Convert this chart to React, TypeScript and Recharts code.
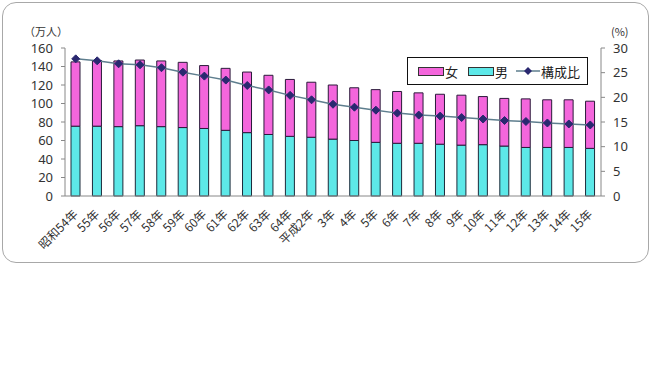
import React from 'react';
import { ComposedChart, Bar, Line, XAxis, YAxis } from 'recharts';

const years = [
  '昭和54年', '55年', '56年', '57年', '58年', '59年', '60年', '61年', '62年', '63年', '64年',
  '平成2年', '3年', '4年', '5年', '6年', '7年', '8年', '9年', '10年', '11年', '12年', '13年', '14年', '15年',
];

// 男 (万人)
const male = [75.5, 75.5, 75, 76, 75, 74, 73, 71, 68.5, 66.5, 64.5, 63.5, 61.5, 60, 58, 57, 57, 56, 55, 55.5, 54, 52.5, 52.5, 52.5, 51.5];
// 総数 (万人)
const total = [145, 146.5, 146, 147, 146, 144.5, 141, 138, 134, 130.5, 126, 123, 120, 117, 115, 113, 111.5, 110, 109, 107.5, 105.5, 105, 104, 104, 102.5];
// 構成比 (%)
const ratio = [27.8, 27.4, 26.8, 26.6, 26.0, 25.1, 24.3, 23.5, 22.4, 21.5, 20.4, 19.5, 18.6, 18.0, 17.4, 16.8, 16.4, 16.2, 15.9, 15.6, 15.3, 15.1, 14.8, 14.6, 14.4];

const leftTicks = [0, 20, 40, 60, 80, 100, 120, 140, 160];
const rightTicks = [0, 5, 10, 15, 20, 25, 30];

const data = years.map((y, i) => ({
  year: y,
  male: male[i],
  female: Math.round((total[i] - male[i]) * 10) / 10,
  ratio: ratio[i],
}));

const PINK = '#F466DC';
const CYAN = '#5DE8E8';
const LINE = '#5E7E8E';
const MARK = '#2A2870';
const JP = '"Noto Sans CJK JP", "Noto Sans", sans-serif';

const XTick = (props: any) => {
  const { x, y, payload } = props;
  return (
    <text
      x={x + 3}
      y={y + 11}
      textAnchor="end"
      transform={`rotate(-45, ${x + 3}, ${y + 11})`}
      fontSize={12}
      fill="#333"
      fontFamily={JP}
    >
      {payload.value}
    </text>
  );
};

const Diamond = (props: any) => {
  const { cx, cy } = props;
  if (cx == null || cy == null) return null;
  const r = 4;
  return <path d={`M${cx},${cy - r}L${cx + r},${cy}L${cx},${cy + r}L${cx - r},${cy}Z`} fill={MARK} stroke={MARK} />;
};

const LegendBox = () => (
  <div
    style={{
      position: 'absolute',
      left: 407,
      top: 57,
      width: 181,
      height: 28,
      border: '1px solid #111',
      background: '#fff',
      display: 'flex',
      alignItems: 'center',
      fontFamily: JP,
      fontSize: 13,
      color: '#222',
      boxSizing: 'border-box',
      paddingLeft: 10,
      whiteSpace: 'nowrap',
    }}
  >
    <span style={{ display: 'inline-block', flex: 'none', width: 24, height: 7, background: PINK, border: '1px solid #333' }} />
    <span style={{ marginLeft: 1, marginRight: 10 }}>女</span>
    <span style={{ display: 'inline-block', flex: 'none', width: 24, height: 7, background: CYAN, border: '1px solid #333' }} />
    <span style={{ marginLeft: 1, marginRight: 8 }}>男</span>
    <svg width={24} height={10} style={{ flex: 'none' }}>
      <line x1={0} y1={5} x2={24} y2={5} stroke={LINE} strokeWidth={1.5} />
      <path d="M12,1L16,5L12,9L8,5Z" fill={MARK} />
    </svg>
    <span style={{ marginLeft: 1 }}>構成比</span>
  </div>
);

export default function App() {
  return (
    <div style={{ position: 'absolute', left: 0, top: 0, width: 650, height: 386, background: '#fff' }}>
      <div
        style={{
          position: 'absolute',
          left: 2,
          top: 2,
          width: 645,
          height: 259,
          border: '1px solid #A8A8A8',
          borderRadius: 14,
        }}
      />
      <div style={{ position: 'absolute', left: 24, top: 23, fontSize: 11, fontFamily: JP, color: '#333' }}>（万人）</div>
      <div style={{ position: 'absolute', left: 611, top: 23, fontSize: 11, fontFamily: JP, color: '#333' }}>(%)</div>
      <div style={{ position: 'absolute', left: 0, top: 0 }}>
        <ComposedChart
          width={650}
          height={265}
          data={data}
          margin={{ top: 48, right: 9, bottom: 0, left: 25 }}
          barCategoryGap={0}
        >
          <XAxis
            dataKey="year"
            interval={0}
            height={69}
            tick={<XTick />}
            tickLine={false}
            axisLine={{ stroke: '#888' }}
          />
          <YAxis
            yAxisId="left"
            domain={[0, 160]}
            ticks={leftTicks}
            interval={0}
            width={40}
            tick={{ fontSize: 13, fill: '#333', fontFamily: '"Noto Sans", sans-serif' }}
            tickSize={4}
            tickMargin={8}
            tickLine={{ stroke: '#888' }}
            axisLine={{ stroke: '#888' }}
          />
          <YAxis
            yAxisId="right"
            orientation="right"
            domain={[0, 30]}
            ticks={rightTicks}
            interval={0}
            width={40}
            tick={{ fontSize: 13, fill: '#333', fontFamily: '"Noto Sans", sans-serif' }}
            tickSize={4}
            tickMargin={8}
            tickLine={{ stroke: '#888' }}
            axisLine={{ stroke: '#888' }}
          />
          <Bar yAxisId="left" dataKey="male" stackId="a" fill={CYAN} stroke="#1c2a3a" strokeWidth={1} barSize={9} isAnimationActive={false} />
          <Bar yAxisId="left" dataKey="female" stackId="a" fill={PINK} stroke="#2a1a3a" strokeWidth={1} barSize={9} isAnimationActive={false} />
          <Line
            yAxisId="right"
            dataKey="ratio"
            stroke={LINE}
            strokeWidth={1.5}
            dot={<Diamond />}
            isAnimationActive={false}
          />
        </ComposedChart>
      </div>
      <LegendBox />
    </div>
  );
}
